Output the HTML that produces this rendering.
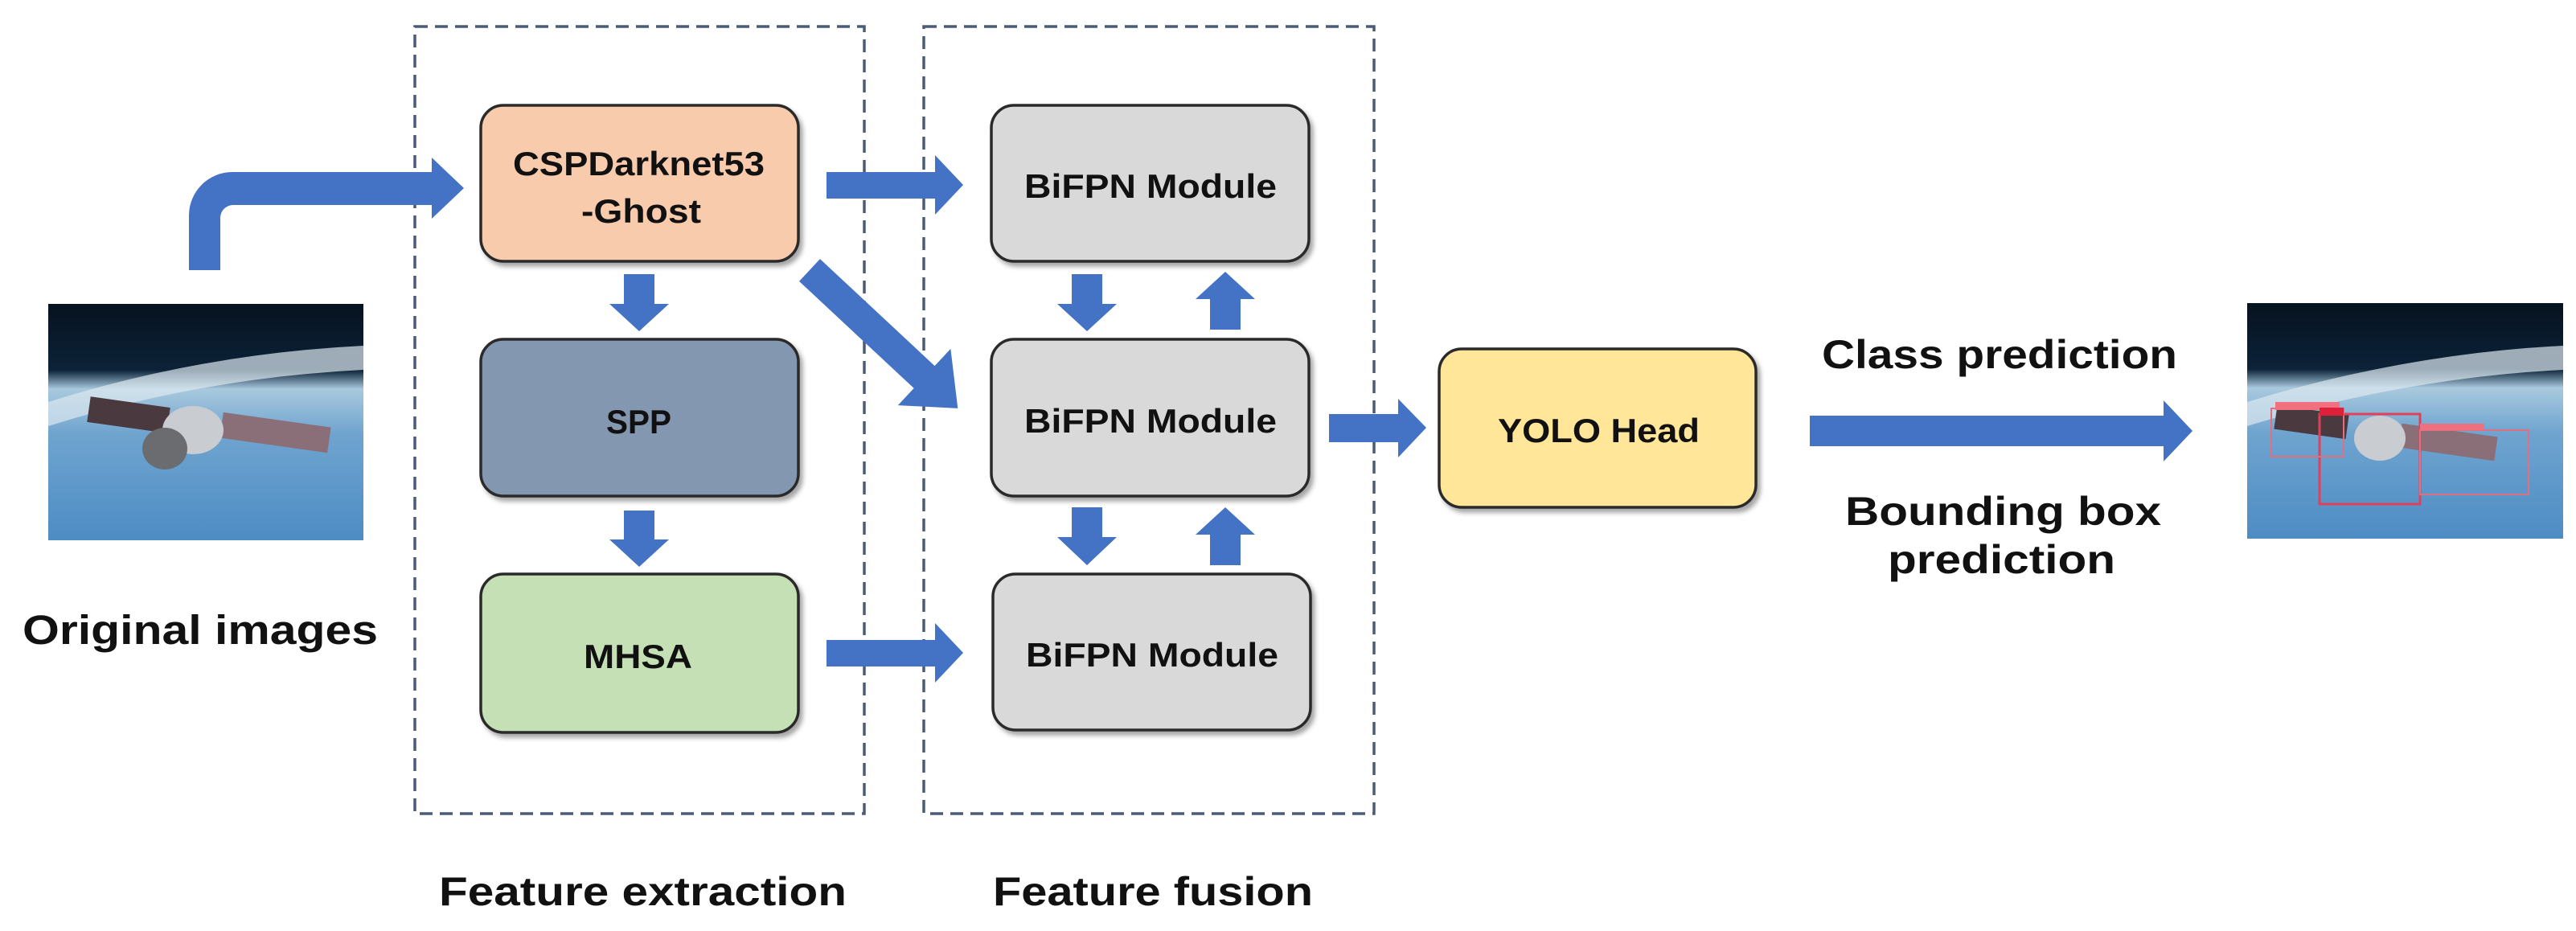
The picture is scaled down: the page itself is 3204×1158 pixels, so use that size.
<!DOCTYPE html>
<html><head><meta charset="utf-8"><style>
html,body{margin:0;padding:0;background:#fff;}
svg{display:block;}
text{font-family:"Liberation Sans",sans-serif;font-weight:bold;fill:#111;}
</style></head><body>
<svg width="3204" height="1158" viewBox="0 0 3204 1158" xmlns="http://www.w3.org/2000/svg">
<defs>
<filter id="sh" x="-10%" y="-10%" width="125%" height="130%"><feDropShadow dx="4" dy="5" stdDeviation="3" flood-color="#000" flood-opacity="0.35"/></filter>
<linearGradient id="sky" x1="0" y1="0" x2="0" y2="1">
<stop offset="0" stop-color="#06121f"/><stop offset="0.28" stop-color="#0c2238"/><stop offset="0.36" stop-color="#a9c9de"/><stop offset="0.55" stop-color="#6fa4cf"/><stop offset="1" stop-color="#4d8cc4"/></linearGradient>
</defs>

<!-- dashed groups -->
<rect x="516" y="33" width="559" height="979" fill="none" stroke="#4a5b78" stroke-width="3.5" stroke-dasharray="16 9"/>
<rect x="1149" y="33" width="560" height="979" fill="none" stroke="#4a5b78" stroke-width="3.5" stroke-dasharray="16 9"/>

<!-- input image -->
<g>
<rect x="60" y="378" width="392" height="294" fill="url(#sky)"/>
<path d="M60,500 Q250,440 452,430 L452,460 Q250,470 60,530 Z" fill="#dbe8f0" opacity="0.7"/>
<rect x="110" y="500" width="100" height="32" fill="#4a3a40" transform="rotate(8 160 516)"/>
<rect x="275" y="522" width="135" height="32" fill="#8a6f78" transform="rotate(8 342 538)"/>
<ellipse cx="240" cy="535" rx="38" ry="30" fill="#c9ccd0"/>
<ellipse cx="205" cy="558" rx="28" ry="26" fill="#6a6c70"/>
</g>
<text x="28" y="801" font-size="51" textLength="442" lengthAdjust="spacingAndGlyphs">Original images</text>

<!-- output image -->
<g>
<rect x="2795" y="377" width="393" height="293" fill="url(#sky)"/>
<path d="M2795,500 Q2990,440 3188,430 L3188,460 Q2990,470 2795,530 Z" fill="#dbe8f0" opacity="0.7"/>
<rect x="2830" y="510" width="90" height="30" fill="#4a3a40" transform="rotate(8 2875 525)"/>
<rect x="2985" y="535" width="120" height="30" fill="#8a6f78" transform="rotate(8 3045 550)"/>
<ellipse cx="2960" cy="545" rx="32" ry="28" fill="#c9ccd0"/>
<rect x="2885" y="515" width="125" height="112" fill="none" stroke="#e0405a" stroke-width="3"/>
<rect x="2825" y="508" width="90" height="60" fill="none" stroke="#e07080" stroke-width="2"/>
<rect x="3010" y="535" width="135" height="80" fill="none" stroke="#e07080" stroke-width="2"/>
<rect x="2830" y="500" width="80" height="10" fill="#f07080"/>
<rect x="2885" y="507" width="30" height="10" fill="#e0203a"/>
<rect x="3010" y="527" width="80" height="8" fill="#f07080"/>
</g>

<!-- boxes -->
<g stroke="#2b2b2b" stroke-width="3.5" filter="url(#sh)">
<rect x="598" y="131" width="395" height="194" rx="28" fill="#f8cbad"/>
<rect x="598" y="422" width="395" height="195" rx="28" fill="#8497b0"/>
<rect x="598" y="714" width="395" height="197" rx="28" fill="#c5e0b4"/>
<rect x="1233" y="131" width="395" height="194" rx="28" fill="#d9d9d9"/>
<rect x="1233" y="422" width="395" height="195" rx="28" fill="#d9d9d9"/>
<rect x="1235" y="714" width="395" height="194" rx="28" fill="#d9d9d9"/>
<rect x="1790" y="434" width="394" height="197" rx="28" fill="#ffe699"/>
</g>
<text x="638" y="218" font-size="42" textLength="313" lengthAdjust="spacingAndGlyphs">CSPDarknet53</text>
<text x="723" y="277" font-size="42" textLength="149" lengthAdjust="spacingAndGlyphs">-Ghost</text>
<text x="754" y="539" font-size="42" textLength="81" lengthAdjust="spacingAndGlyphs">SPP</text>
<text x="726" y="831" font-size="42" textLength="135" lengthAdjust="spacingAndGlyphs">MHSA</text>
<text x="1274" y="246" font-size="42" textLength="314" lengthAdjust="spacingAndGlyphs">BiFPN Module</text>
<text x="1274" y="538" font-size="42" textLength="314" lengthAdjust="spacingAndGlyphs">BiFPN Module</text>
<text x="1276" y="829" font-size="42" textLength="314" lengthAdjust="spacingAndGlyphs">BiFPN Module</text>
<text x="1863" y="550" font-size="42" textLength="251" lengthAdjust="spacingAndGlyphs">YOLO Head</text>

<text x="546" y="1126" font-size="50" textLength="507" lengthAdjust="spacingAndGlyphs">Feature extraction</text>
<text x="1235" y="1126" font-size="50" textLength="398" lengthAdjust="spacingAndGlyphs">Feature fusion</text>
<text x="2266" y="458" font-size="50" textLength="442" lengthAdjust="spacingAndGlyphs">Class prediction</text>
<text x="2295" y="653" font-size="50" textLength="393" lengthAdjust="spacingAndGlyphs">Bounding box</text>
<text x="2348" y="713" font-size="50" textLength="283" lengthAdjust="spacingAndGlyphs">prediction</text>

<!-- arrows -->
<g fill="#4472c4">
<path d="M235,336 V268 A54,54 0 0 1 289,214 H537 V196 L577,234 L537,272 V255 H290 A16,16 0 0 0 274,271 V336 Z"/>
<!-- right arrows -->
<path d="M1028,214 H1163 V193 L1198,230 L1163,267 V247 H1028 Z"/>
<path d="M1028,796 H1163 V775 L1198,812 L1163,849 V829 H1028 Z"/>
<path d="M1653,515 H1739 V496 L1774,532 L1739,569 V550 H1653 Z"/>
<path d="M2251,517 H2691 V498 L2727,536 L2691,574 V555 H2251 Z"/>
<!-- diagonal -->
<path transform="translate(1007,336) rotate(43)" d="M0,-19 H195 V-48 L252,0 L195,48 V19 H0 Z"/>
<!-- down arrows -->
<path d="M776,341 H814 V378 H832 L795,412 L758,378 H776 Z"/>
<path d="M776,635 H814 V671 H832 L795,705 L758,671 H776 Z"/>
<path d="M1333,341 H1371 V378 H1389 L1352,412 L1315,378 H1333 Z"/>
<path d="M1333,631 H1371 V668 H1389 L1352,703 L1315,668 H1333 Z"/>
<!-- up arrows -->
<path d="M1505,410 H1543 V372 H1561 L1524,338 L1487,372 H1505 Z"/>
<path d="M1505,703 H1543 V665 H1561 L1524,631 L1487,665 H1505 Z"/>
</g>
</svg>
</body></html>
